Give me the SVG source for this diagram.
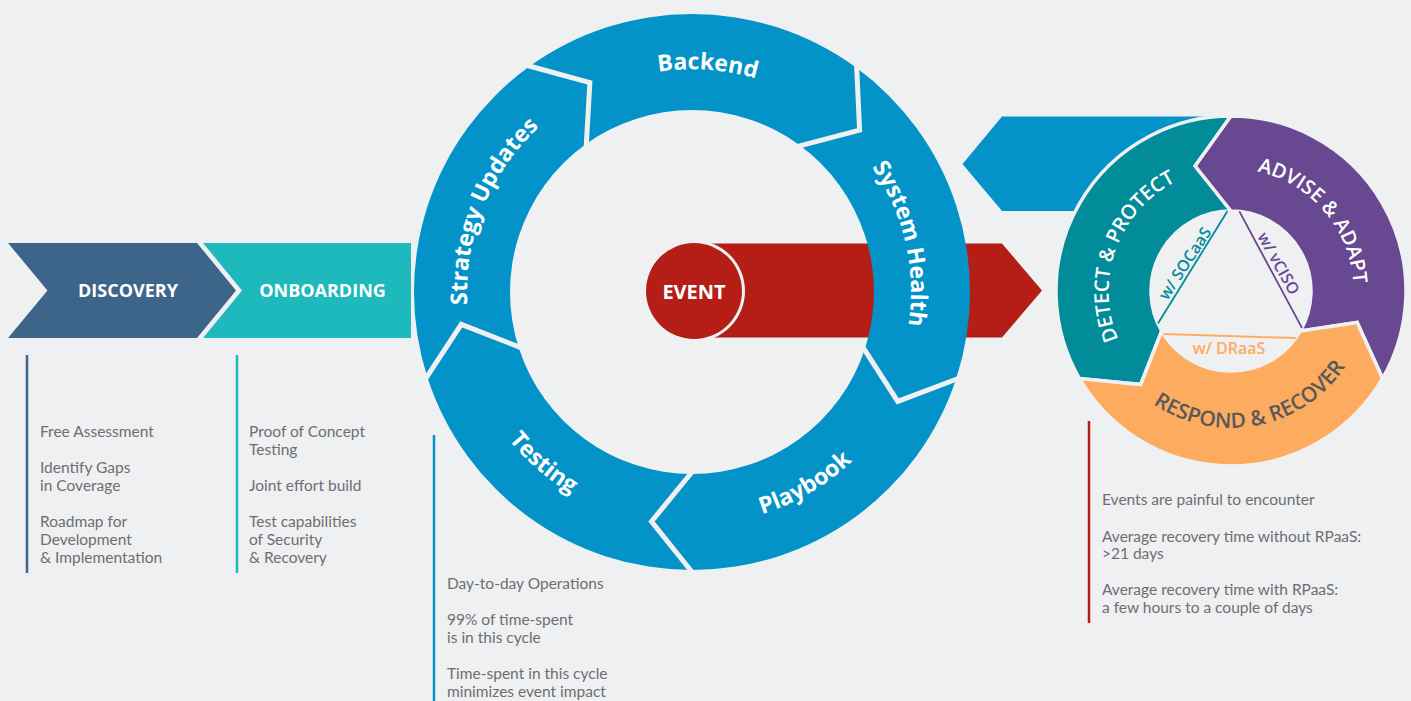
<svg xmlns="http://www.w3.org/2000/svg" width="1411" height="701" viewBox="0 0 1411 701">
<defs>
<style>
.bg{fill:#eff0f2}
.note{font-family:Lato,"Open Sans","Liberation Sans",sans-serif;font-size:15.5px;fill:#6d6e71}
.phase{font-family:"Open Sans","Liberation Sans",sans-serif;font-weight:700;font-size:18px;fill:#fff;text-anchor:middle}
.ring{font-family:"Open Sans","Liberation Sans",sans-serif;font-weight:700;font-size:23px;fill:#fff}
.tri{font-family:"Open Sans","Liberation Sans",sans-serif;font-weight:600;font-size:20px}
.cap{font-family:"Open Sans","Liberation Sans",sans-serif;font-weight:600;font-size:16px;text-anchor:middle}
.blue{fill:#0493c8}
.gap{fill:none;stroke:#eff0f2;stroke-width:5;stroke-linejoin:miter}
.tseg{stroke:#eff0f2;stroke-width:3.5;stroke-linejoin:miter}
.chord{stroke-width:1.8;fill:none}
</style>
<path id="pBackend" d="M468.55,276.37 A224,224 0 0 1 915.45,307.63"/>
<path id="pStrategy" d="M607.71,500.62 A225,225 0 0 1 776.29,83.38"/>
<path id="pHealth" d="M642.74,78.61 A219,219 0 0 1 741.26,505.39"/>
<path id="pPlaybook" d="M491.24,410.26 A233,233 0 0 0 892.76,173.74"/>
<path id="pTesting" d="M513.89,137.17 A236,236 0 0 0 870.11,446.83"/>
<path id="pDetect" d="M1188.93,406.58 A123,123 0 0 1 1273.07,175.42"/>
<path id="pAdvise" d="M1151.12,197.47 A123,123 0 0 1 1310.88,384.53"/>
<path id="pRespond" d="M1095.54,317.33 A138,138 0 0 0 1366.46,264.67"/>
</defs>
<rect class="bg" x="0" y="0" width="1411" height="701"/>

<g id="connectors">
  <polygon id="event-arrow" fill="#b41e16" points="694,243.5 1002,243.5 1042,290.5 1002,337.5 694,337.5"/>
  <polygon id="return-arrow" class="blue" points="1002,116.5 1228,116.5 1228,211 1002,211 962.5,164"/>
</g>

<g id="node-discovery">
  <polygon fill="#3d6489" points="8,243 197,243 236,290.5 197,338 8,338 47.5,290.5"/>
  <text class="phase" x="128" y="297">DISCOVERY</text>
</g>
<g id="node-onboarding">
  <polygon fill="#1db9bd" points="203,243 411,243 411,338 203,338 242,290.5"/>
  <text class="phase" x="322.5" y="297">ONBOARDING</text>
</g>

<g id="node-cycle">
  <g id="seg-strategy">
    <path class="blue" d="M427.61,377.91 A278,278 0 0 1 528.60,67.09 L589.86,82.58 L585.02,144.76 A182,182 0 0 0 518.91,348.24 L461.27,324.43 Z"/>
  </g>
  <g id="seg-backend">
    <path class="blue" d="M528.60,67.09 A278,278 0 0 1 855.40,67.09 L859.61,130.14 L798.98,144.76 A182,182 0 0 0 585.02,144.76 L589.86,82.58 Z"/>
  </g>
  <g id="seg-health">
    <path class="blue" d="M855.40,67.09 A278,278 0 0 1 956.39,377.91 L897.73,401.39 L865.09,348.24 A182,182 0 0 0 798.98,144.76 L859.61,130.14 Z"/>
  </g>
  <g id="seg-playbook">
    <path class="blue" d="M956.39,377.91 A278,278 0 0 1 692,570 L651.54,521.46 L692,474 A182,182 0 0 0 865.09,348.24 L897.73,401.39 Z"/>
  </g>
  <g id="seg-testing">
    <path class="blue" d="M692,570 A278,278 0 0 1 427.61,377.91 L461.27,324.43 L518.91,348.24 A182,182 0 0 0 692,474 L651.54,521.46 Z"/>
  </g>
  <g id="seg-gaps">
    <polyline class="gap" points="958.30,378.53 897.73,401.39 863.19,347.62"/>
    <polyline class="gap" points="692,572 651.54,521.46 692,472"/>
    <polyline class="gap" points="425.70,378.53 461.27,324.43 520.81,347.62"/>
    <polyline class="gap" points="527.42,65.47 589.86,82.58 586.20,146.38"/>
    <polyline class="gap" points="856.58,65.47 859.61,130.14 797.80,146.38"/>
  </g>
  <text class="ring"><textPath href="#pBackend" startOffset="50%" text-anchor="middle">Backend</textPath></text>
  <text class="ring"><textPath href="#pStrategy" startOffset="50%" text-anchor="middle">Strategy Updates</textPath></text>
  <text class="ring"><textPath href="#pHealth" startOffset="50%" text-anchor="middle">System Health</textPath></text>
  <text class="ring"><textPath href="#pPlaybook" startOffset="50%" text-anchor="middle">Playbook</textPath></text>
  <text class="ring"><textPath href="#pTesting" startOffset="50%" text-anchor="middle">Testing</textPath></text>
</g>

<g id="node-event">
  <circle class="bg" cx="694" cy="291" r="51"/>
  <circle fill="#b41e16" cx="694" cy="291" r="48"/>
  <text x="694" y="298.5" text-anchor="middle" style="font-family:'Open Sans','Liberation Sans',sans-serif;font-weight:700;font-size:20px;fill:#fff">EVENT</text>
</g>

<g id="node-triad">
  <g id="seg-detect">
    <path class="tseg" fill="#028c99" d="M1231,116 A175,175 0 0 0 1079.45,378.5 L1140.69,384.51 L1161.72,331 A80,80 0 0 1 1231,211 L1195.17,166.04 Z"/>
    <text class="tri" fill="#fff"><textPath href="#pDetect" startOffset="50%" text-anchor="middle">DETECT &amp; PROTECT</textPath></text>
  </g>
  <g id="seg-advise">
    <path class="tseg" fill="#684890" d="M1382.55,378.5 A175,175 0 0 0 1231,116 L1195.17,166.04 L1231,211 A80,80 0 0 1 1300.28,331 L1357.14,322.45 Z"/>
    <text class="tri" fill="#fff"><textPath href="#pAdvise" startOffset="50%" text-anchor="middle">ADVISE &amp; ADAPT</textPath></text>
  </g>
  <g id="seg-respond">
    <path class="tseg" fill="#fdab5e" d="M1079.45,378.5 A175,175 0 0 0 1382.55,378.5 L1357.14,322.45 L1300.28,331 A80,80 0 0 1 1161.72,331 L1140.69,384.51 Z"/>
    <text class="tri" fill="#58595b" style="font-size:21px"><textPath href="#pRespond" startOffset="50%" text-anchor="middle">RESPOND &amp; RECOVER</textPath></text>
  </g>
  <g id="cap-socaas">
    <line class="chord" stroke="#028c99" x1="1227.51" y1="211.08" x2="1157.92" y2="323.54"/>
    <text class="cap" fill="#028c99" transform="translate(1185,263.5) rotate(-57)" y="5.5">w/ SOCaaS</text>
  </g>
  <g id="cap-vciso">
    <line class="chord" stroke="#684890" x1="1239.36" y1="211.44" x2="1301.96" y2="327.94"/>
    <text class="cap" fill="#684890" transform="translate(1278.5,263.5) rotate(61)" y="5.5">w/ vCISO</text>
  </g>
  <g id="cap-draas">
    <line class="chord" stroke="#fdab5e" x1="1163.53" y1="333.98" x2="1295.72" y2="338.02"/>
    <text class="cap" fill="#fdab5e" x="1229" y="353.5">w/ DRaaS</text>
  </g>
</g>

<g id="notes-discovery">
  <line x1="27" y1="355" x2="27" y2="573" stroke="#3d6489" stroke-width="2.5"/>
  <text class="note" x="40" y="436.5">Free Assessment</text>
  <text class="note" x="40" y="472.5">Identify Gaps</text>
  <text class="note" x="40" y="490.5">in Coverage</text>
  <text class="note" x="40" y="526.5">Roadmap for</text>
  <text class="note" x="40" y="544.5">Development</text>
  <text class="note" x="40" y="562.5">&amp; Implementation</text>
</g>
<g id="notes-onboarding">
  <line x1="237" y1="355" x2="237" y2="573" stroke="#1db9bd" stroke-width="2.5"/>
  <text class="note" x="249" y="436.5">Proof of Concept</text>
  <text class="note" x="249" y="454.5">Testing</text>
  <text class="note" x="249" y="490.5">Joint effort build</text>
  <text class="note" x="249" y="526.5">Test capabilities</text>
  <text class="note" x="249" y="544.5">of Security</text>
  <text class="note" x="249" y="562.5">&amp; Recovery</text>
</g>
<g id="notes-cycle">
  <line x1="434" y1="435" x2="434" y2="701" stroke="#0493c8" stroke-width="2.5"/>
  <text class="note" x="447" y="588.5">Day-to-day Operations</text>
  <text class="note" x="447" y="624.5">99% of time-spent</text>
  <text class="note" x="447" y="642.5">is in this cycle</text>
  <text class="note" x="447" y="678.5">Time-spent in this cycle</text>
  <text class="note" x="447" y="696.5">minimizes event impact</text>
</g>
<g id="notes-event">
  <line x1="1089" y1="421" x2="1089" y2="623" stroke="#b41e16" stroke-width="2.5"/>
  <text class="note" x="1102" y="505">Events are painful to encounter</text>
  <text class="note" x="1102" y="541.5">Average recovery time without RPaaS:</text>
  <text class="note" x="1102" y="559">&gt;21 days</text>
  <text class="note" x="1102" y="595">Average recovery time with RPaaS:</text>
  <text class="note" x="1102" y="613">a few hours to a couple of days</text>
</g>
</svg>
